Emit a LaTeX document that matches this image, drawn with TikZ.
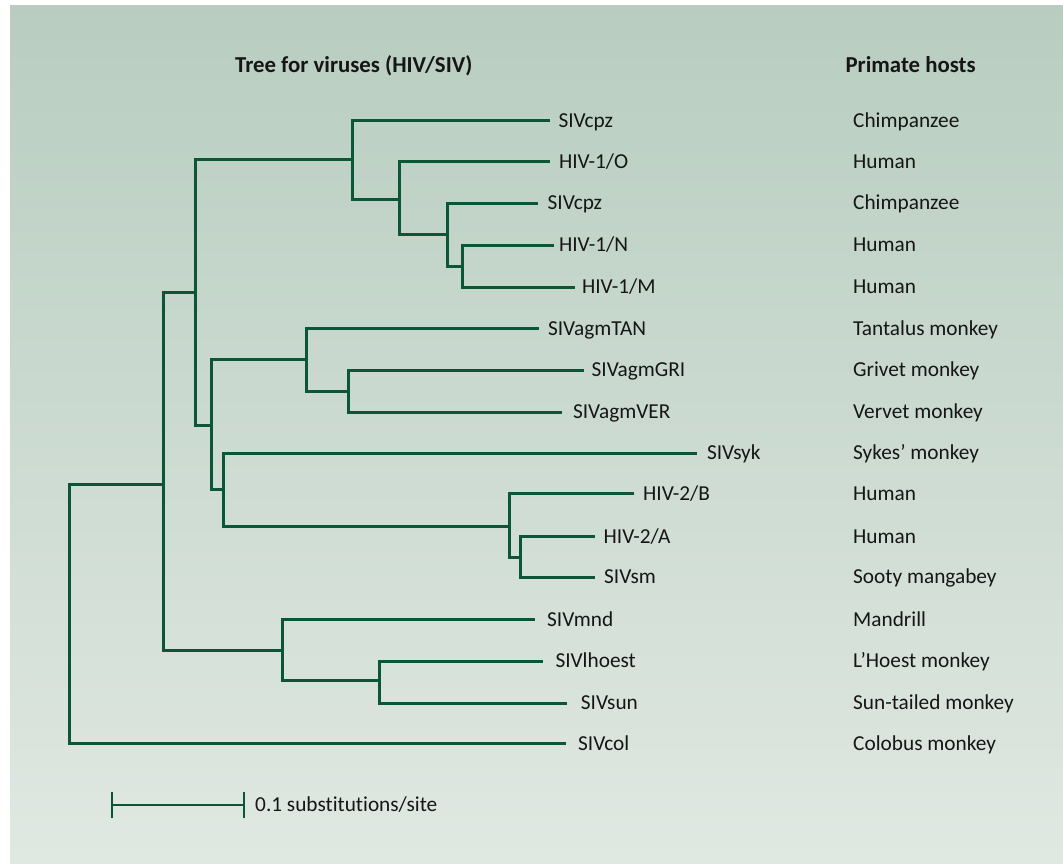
\documentclass[tikz,border=0pt]{standalone}
\usepackage{fontspec}
\setmainfont{Carlito}[Ligatures={NoCommon,NoRare}]
\definecolor{treegreen}{RGB}{10,86,54}
\definecolor{bgtop}{RGB}{184,205,192}
\definecolor{bgbot}{RGB}{224,232,226}
\definecolor{txt}{RGB}{22,22,22}
\begin{document}
\begin{tikzpicture}[x=1pt,y=-1pt,
  branch/.style={draw=treegreen, line width=3pt},
  leaf/.style={anchor=west, inner xsep=#1pt, inner ysep=0pt, text height=13.5pt, text depth=0pt, text=txt, font=\fontsize{21.3}{25}\selectfont},
  leaf/.default=9,
  host/.style={anchor=west, inner sep=0pt, text height=13.5pt, text depth=0pt, text=txt, font=\fontsize{21.3}{25}\selectfont},
  heading/.style={anchor=base west, inner sep=0pt, text=txt, font=\bfseries\fontsize{22.8}{27}\selectfont}]
\useasboundingbox (0,0) rectangle (1063,864);
\shade[top color=bgtop, bottom color=bgbot] (10,6) rectangle (1063,864);

% headings
\node[heading] (t1) at (235,72.7) {Tree for viruses (HIV/SIV)};
\node[heading] (t2) at (845.4,72.7) {Primate hosts};

% leaves
\node[leaf=8]   (l1)  at (550.3,120.5) {SIVcpz};
\node[leaf=8.5] (l2)  at (550.3,161.5) {HIV-1/O};
\node[leaf=9]   (l3)  at (538.4,203)   {SIVcpz};
\node[leaf=5]   (l4)  at (553.9,245)   {HIV-1/N};
\node[leaf=6.5] (l5)  at (575.4,287)   {HIV-1/M};
\node[leaf=9]   (l6)  at (538.8,328.5) {SIVagmTAN};
\node[leaf=7]   (l7)  at (584.4,370)   {SIVagmGRI};
\node[leaf=11]  (l8)  at (561.8,412)   {SIVagmVER};
\node[leaf=10]  (l9)  at (696.8,453)   {SIVsyk};
\node[leaf=9]   (l10) at (634,493.5)   {HIV-2/B};
\node[leaf=8.5] (l11) at (595,536.7)   {HIV-2/A};
\node[leaf=9]   (l12) at (595,577)     {SIVsm};
\node[leaf=12]  (l13) at (535,619.5)   {SIVmnd};
\node[leaf=12]  (l14) at (543.3,661)   {SIVlhoest};
\node[leaf=14]  (l15) at (566.7,703)   {SIVsun};
\node[leaf=11.5](l16) at (566.4,743.5) {SIVcol};

% hosts
\node[host] (h1)  at (853,120.5) {Chimpanzee};
\node[host] (h2)  at (853,161.5) {Human};
\node[host] (h3)  at (853,203)   {Chimpanzee};
\node[host] (h4)  at (853,245)   {Human};
\node[host] (h5)  at (853,287)   {Human};
\node[host] (h6)  at (853,328.5) {Tantalus monkey};
\node[host] (h7)  at (853,370)   {Grivet monkey};
\node[host] (h8)  at (853,412)   {Vervet monkey};
\node[host] (h9)  at (853,453)   {Sykes’ monkey};
\node[host] (h10) at (853,493.5) {Human};
\node[host] (h11) at (853,536.7) {Human};
\node[host] (h12) at (853,577)   {Sooty mangabey};
\node[host] (h13) at (853,619.5) {Mandrill};
\node[host] (h14) at (853,661)   {L’Hoest monkey};
\node[host] (h15) at (853,703)   {Sun-tailed monkey};
\node[host] (h16) at (853,743.5) {Colobus monkey};

% internal nodes
\coordinate (root) at (69.3,614);
\coordinate (nA) at (163,484);
\coordinate (nB) at (195,292);
\coordinate (nC) at (352,160);
\coordinate (nE) at (399,199);
\coordinate (nF) at (447,234);
\coordinate (nG) at (462,266);
\coordinate (nD) at (211,425);
\coordinate (nH) at (306,359.5);
\coordinate (nJ) at (348,391.5);
\coordinate (nI) at (223,489);
\coordinate (nK) at (509,526);
\coordinate (nL) at (520,557);
\coordinate (nMn) at (282,650);
\coordinate (nM) at (379,680);

% branches
\draw[branch] (root) |- (nA);
\draw[branch] (root) |- (l16.west);
\draw[branch] (nA) |- (nB);
\draw[branch] (nA) |- (nMn);
\draw[branch] (nB) |- (nC);
\draw[branch] (nB) |- (nD);
\draw[branch] (nC) |- (l1.west);
\draw[branch] (nC) |- (nE);
\draw[branch] (nE) |- (l2.west);
\draw[branch] (nE) |- (nF);
\draw[branch] (nF) |- (l3.west);
\draw[branch] (nF) |- (nG);
\draw[branch] (nG) |- (l4.west);
\draw[branch] (nG) |- (l5.west);
\draw[branch] (nD) |- (nH);
\draw[branch] (nD) |- (nI);
\draw[branch] (nH) |- (l6.west);
\draw[branch] (nH) |- (nJ);
\draw[branch] (nJ) |- (l7.west);
\draw[branch] (nJ) |- (l8.west);
\draw[branch] (nI) |- (l9.west);
\draw[branch] (nI) |- (nK);
\draw[branch] (nK) |- (l10.west);
\draw[branch] (nK) |- (nL);
\draw[branch] (nL) |- (l11.west);
\draw[branch] (nL) |- (l12.west);
\draw[branch] (nMn) |- (l13.west);
\draw[branch] (nMn) |- (nM);
\draw[branch] (nM) |- (l14.west);
\draw[branch] (nM) |- (l15.west);

% scale bar
\coordinate (sb1) at (111.7,805);
\coordinate (sb2) at (244.3,805);
\draw[branch, line width=2.6pt] (sb1) -- (sb2);
\draw[branch, line width=2pt] ([yshift=-13pt]sb1) -- ([yshift=13pt]sb1);
\draw[branch, line width=2pt] ([yshift=-13pt]sb2) -- ([yshift=13pt]sb2);
\node[host] (sbt) at (255,805) {0.1 substitutions/site};
\end{tikzpicture}
\end{document}
